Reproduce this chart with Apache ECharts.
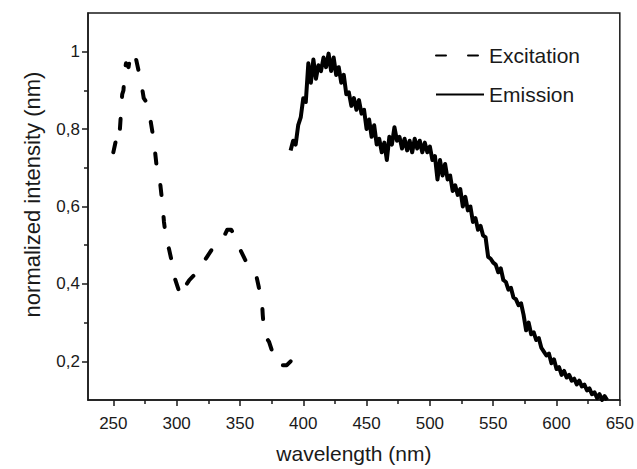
<!DOCTYPE html>
<html>
<head>
<meta charset="utf-8">
<script src="https://cdn.jsdelivr.net/npm/echarts@6/dist/echarts.min.js"></script>
<style>
  html, body { margin: 0; padding: 0; background: #fff; }
  #spectrum_chart { width: 637px; height: 469px; }
</style>
</head>
<body>
<div id="spectrum_chart"></div>
<script>
// tick positions
var xMajorTicks = [250, 300, 350, 400, 450, 500, 550, 600, 650];
var xMinorTicks = [275, 325, 375, 425, 475, 525, 575, 625];
var yMajorTicks = [0.2, 0.4, 0.6, 0.8, 1];
var yMinorTicks = [0.3, 0.5, 0.7, 0.9];

var seriesNames = ['Excitation', 'Emission'];

// excitation spectrum [wavelength, intensity]
var excitation = [
  [250, 0.74], [252, 0.77], [254, 0.80], [255, 0.79], [256, 0.84], [257, 0.89],
  [258, 0.90], [259, 0.95], [260, 0.97], [262, 0.96], [263, 0.98], [264, 1.0],
  [266, 0.99], [268, 0.98], [270, 0.95], [272, 0.92], [274, 0.88], [276, 0.87],
  [278, 0.85], [280, 0.81], [282, 0.77], [284, 0.71], [287, 0.66], [289, 0.60],
  [290, 0.56], [292, 0.51], [294, 0.49], [296, 0.46], [298, 0.42], [300, 0.40],
  [302, 0.38], [304, 0.41], [306, 0.40], [308, 0.40], [310, 0.41], [313, 0.42],
  [316, 0.43], [320, 0.44], [322, 0.46], [324, 0.47], [328, 0.49], [332, 0.50],
  [334, 0.51], [337, 0.52], [340, 0.54], [343, 0.54], [347, 0.52], [350, 0.49],
  [353, 0.47], [356, 0.45], [360, 0.44], [363, 0.42], [365, 0.39], [367, 0.38],
  [368, 0.32], [369, 0.28], [371, 0.26], [373, 0.25], [375, 0.23], [378, 0.20],
  [380, 0.19], [383, 0.19], [387, 0.19], [390, 0.20]
];

// emission spectrum [wavelength, intensity]
var emission = [
  [390, 0.745], [392, 0.77], [394, 0.76], [396, 0.81], [398, 0.83], [400, 0.88],
  [402, 0.87], [404, 0.97], [406, 0.92], [408, 0.98], [410, 0.93], [412, 0.965],
  [414, 0.95], [416, 0.985], [418, 0.96], [420, 0.995], [422, 0.95], [424, 0.985],
  [426, 0.94], [428, 0.96], [430, 0.92], [432, 0.94], [434, 0.89], [436, 0.895],
  [438, 0.86], [440, 0.88], [442, 0.85], [444, 0.875], [446, 0.84], [448, 0.85],
  [450, 0.80], [452, 0.825], [454, 0.78], [456, 0.81], [458, 0.76], [460, 0.775],
  [462, 0.74], [464, 0.765], [466, 0.72], [468, 0.78], [470, 0.76], [472, 0.805],
  [474, 0.77], [476, 0.78], [478, 0.75], [480, 0.775], [482, 0.745], [484, 0.77],
  [486, 0.74], [488, 0.775], [490, 0.75], [492, 0.77], [494, 0.74], [496, 0.765],
  [498, 0.74], [500, 0.755], [502, 0.72], [504, 0.73], [506, 0.67], [508, 0.72],
  [510, 0.68], [512, 0.71], [514, 0.67], [516, 0.68], [518, 0.64], [520, 0.655],
  [522, 0.63], [524, 0.645], [526, 0.60], [528, 0.625], [530, 0.59], [532, 0.60],
  [534, 0.56], [536, 0.57], [538, 0.54], [540, 0.55], [542, 0.525], [544, 0.52],
  [546, 0.47], [548, 0.465], [550, 0.455], [552, 0.45], [554, 0.43], [556, 0.44],
  [558, 0.41], [560, 0.405], [562, 0.385], [564, 0.39], [566, 0.365], [568, 0.36],
  [570, 0.345], [572, 0.35], [574, 0.32], [576, 0.28], [578, 0.30], [580, 0.27],
  [582, 0.275], [584, 0.255], [586, 0.26], [588, 0.235], [590, 0.225], [592, 0.215],
  [594, 0.22], [596, 0.195], [598, 0.205], [600, 0.18], [602, 0.185], [604, 0.165],
  [606, 0.175], [608, 0.158], [610, 0.165], [612, 0.15], [614, 0.155], [616, 0.14],
  [618, 0.15], [620, 0.135], [622, 0.14], [624, 0.125], [626, 0.13], [628, 0.115],
  [630, 0.12], [632, 0.105], [634, 0.115], [636, 0.10], [638, 0.11], [640, 0.10]
];

var FONT = 'Liberation Sans, Arial, sans-serif';
var INK = '#1a1a1a';

var domSpec = document.getElementById('spectrum_chart');
var myChartSpec = echarts.init(domSpec, null, {
  renderer: 'svg',
  useDirtyRect: false
});

var optionSpec = {
  animation: false,
  grid: {
    left: 88,
    right: 16,
    top: 13,
    bottom: 64,
    show: true,
    borderColor: INK,
    borderWidth: 1.5
  },
  legend: {
    data: seriesNames,
    orient: 'vertical',
    left: 430,
    top: 40,
    itemWidth: 48,
    itemHeight: 14,
    itemGap: 18,
    itemStyle: { opacity: 0 },
    textStyle: { fontSize: 21, color: INK, fontFamily: FONT }
  },
  xAxis: [
    {
      type: 'value',
      min: 230,
      max: 650,
      name: 'wavelength (nm)',
      nameLocation: 'middle',
      nameGap: 43,
      nameTextStyle: { fontSize: 21, color: INK, fontFamily: FONT },
      axisLine: { lineStyle: { color: INK, width: 1.5 } },
      axisTick: { customValues: xMajorTicks, length: 6, lineStyle: { color: INK, width: 1.5 } },
      axisLabel: { customValues: xMajorTicks, fontSize: 17, color: INK, fontFamily: FONT, margin: 15 },
      splitLine: { show: false }
    },
    {
      // minor ticks
      type: 'value',
      min: 230,
      max: 650,
      position: 'bottom',
      axisLine: { show: false },
      axisTick: { customValues: xMinorTicks, length: 4, lineStyle: { color: INK, width: 1.5 } },
      axisLabel: { show: false },
      splitLine: { show: false }
    }
  ],
  yAxis: [
    {
      type: 'value',
      min: 0.1,
      max: 1.1,
      name: 'normalized intensity (nm)',
      nameLocation: 'middle',
      nameGap: 45,
      nameTextStyle: { fontSize: 22, color: INK, fontFamily: FONT, padding: [0, 0, 0, 24] },
      axisLine: { show: true, lineStyle: { color: INK, width: 1.5 } },
      axisTick: { show: true, customValues: yMajorTicks, length: 6, lineStyle: { color: INK, width: 1.5 } },
      axisLabel: {
        customValues: yMajorTicks,
        fontSize: 17,
        color: INK,
        fontFamily: FONT,
        margin: 8,
        formatter: function (value) {
          return String(Math.round(value * 10) / 10).replace('.', ',');
        }
      },
      splitLine: { show: false }
    },
    {
      // minor ticks
      type: 'value',
      min: 0.1,
      max: 1.1,
      position: 'left',
      axisLine: { show: false },
      axisTick: { show: true, customValues: yMinorTicks, length: 4, lineStyle: { color: INK, width: 1.5 } },
      axisLabel: { show: false },
      splitLine: { show: false }
    }
  ],
  series: [
    {
      name: seriesNames[0],
      type: 'line',
      data: excitation,
      symbol: 'none',
      showSymbol: false,
      lineStyle: { color: '#000', width: 4, type: [10, 22], cap: 'round', join: 'round' },
      itemStyle: { color: '#000' }
    },
    {
      name: seriesNames[1],
      type: 'line',
      data: emission,
      symbol: 'none',
      showSymbol: false,
      lineStyle: { color: '#000', width: 4, join: 'round' },
      itemStyle: { color: '#000' }
    }
  ]
};

if (optionSpec && typeof optionSpec === 'object') {
  myChartSpec.setOption(optionSpec);
}

window.addEventListener('resize', myChartSpec.resize);
</script>
</body>
</html>
